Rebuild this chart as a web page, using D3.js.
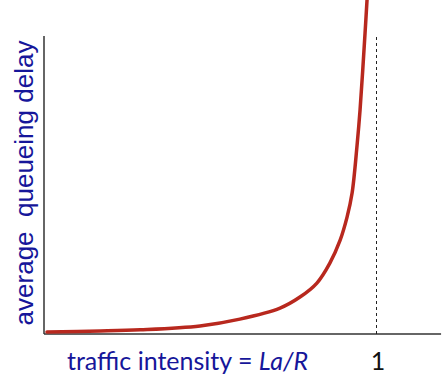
<!DOCTYPE html>
<html>
<head>
<meta charset="utf-8">
<script src="https://cdn.jsdelivr.net/npm/d3@7"></script>
<style>
  html, body { margin: 0; padding: 0; background: #fff; }
  svg { display: block; }
</style>
</head>
<body>
<svg id="chart"></svg>
<script>
// traffic intensity (La/R) vs average queueing delay
var intensity = [0.009, 0.17, 0.29, 0.47, 0.59, 0.711, 0.771, 0.822, 0.861, 0.892, 0.913, 0.928, 0.943, 0.952, 0.967, 0.974];
var delay     = [0.07, 0.10, 0.14, 0.27, 0.50, 0.87, 1.24, 1.71, 2.38, 3.15, 3.93, 4.73, 6.34, 7.52, 10.1, 11.4];
var xTicks = [1];
var xTitle = ['traffic intensity = ', 'La/R'];
var yTitle = 'average  queueing delay';

var width = 448;
var height = 390;

var svg = d3.select('#chart')
  .attr('width', width)
  .attr('height', height);

var x = d3.scaleLinear().domain([0, 1]).range([44, 376]);
var y = d3.scaleLinear().domain([0, 10]).range([334, 36]);

// axes: plain lines, no ticks
svg.append('line')
  .attr('x1', x(0)).attr('x2', x(0))
  .attr('y1', y(0)).attr('y2', y(10))
  .attr('stroke', '#333').attr('stroke-width', 1.5);

svg.append('line')
  .attr('x1', x(0)).attr('x2', x(1.196))
  .attr('y1', y(0)).attr('y2', y(0))
  .attr('stroke', '#333').attr('stroke-width', 1.5);

// dashed asymptote at intensity = 1 (half pixel offset keeps it crisp)
svg.append('line')
  .attr('x1', x(1) + 0.5).attr('x2', x(1) + 0.5)
  .attr('y1', y(0)).attr('y2', y(10))
  .attr('stroke', '#222').attr('stroke-width', 1)
  .attr('stroke-dasharray', '3,3');

var points = intensity.map(function(v, i) { return [v, delay[i]]; });

var line = d3.line()
  .x(function(d) { return x(d[0]); })
  .y(function(d) { return y(d[1]); })
  .curve(d3.curveCatmullRom.alpha(0.5));

svg.append('path')
  .datum(points)
  .attr('d', line)
  .attr('fill', 'none')
  .attr('stroke', '#b8281e')
  .attr('stroke-width', 3.5)
  .attr('stroke-linecap', 'round');

// y title
svg.append('text')
  .attr('transform', 'translate(33,183) rotate(-90)')
  .attr('text-anchor', 'middle')
  .attr('font-family', '"Liberation Sans", Arial, sans-serif')
  .attr('font-size', 26)
  .attr('fill', '#16169a')
  .style('white-space', 'pre')
  .text(yTitle);

// x title
var xt = svg.append('text')
  .attr('x', 67)
  .attr('y', 370)
  .attr('font-family', 'Lato, "Open Sans", sans-serif')
  .attr('font-size', 25)
  .attr('fill', '#16169a');
xt.append('tspan').text(xTitle[0]);
xt.append('tspan').attr('font-style', 'italic').text(xTitle[1]);

// tick label "1"
svg.selectAll('text.tick')
  .data(xTicks)
  .enter().append('text')
  .attr('class', 'tick')
  .attr('x', function(d) { return x(d) + 2; })
  .attr('y', 370)
  .attr('text-anchor', 'middle')
  .attr('font-family', 'Lato, "Open Sans", sans-serif')
  .attr('font-size', 25)
  .attr('fill', '#111')
  .text(function(d) { return d; });
</script>
</body>
</html>
